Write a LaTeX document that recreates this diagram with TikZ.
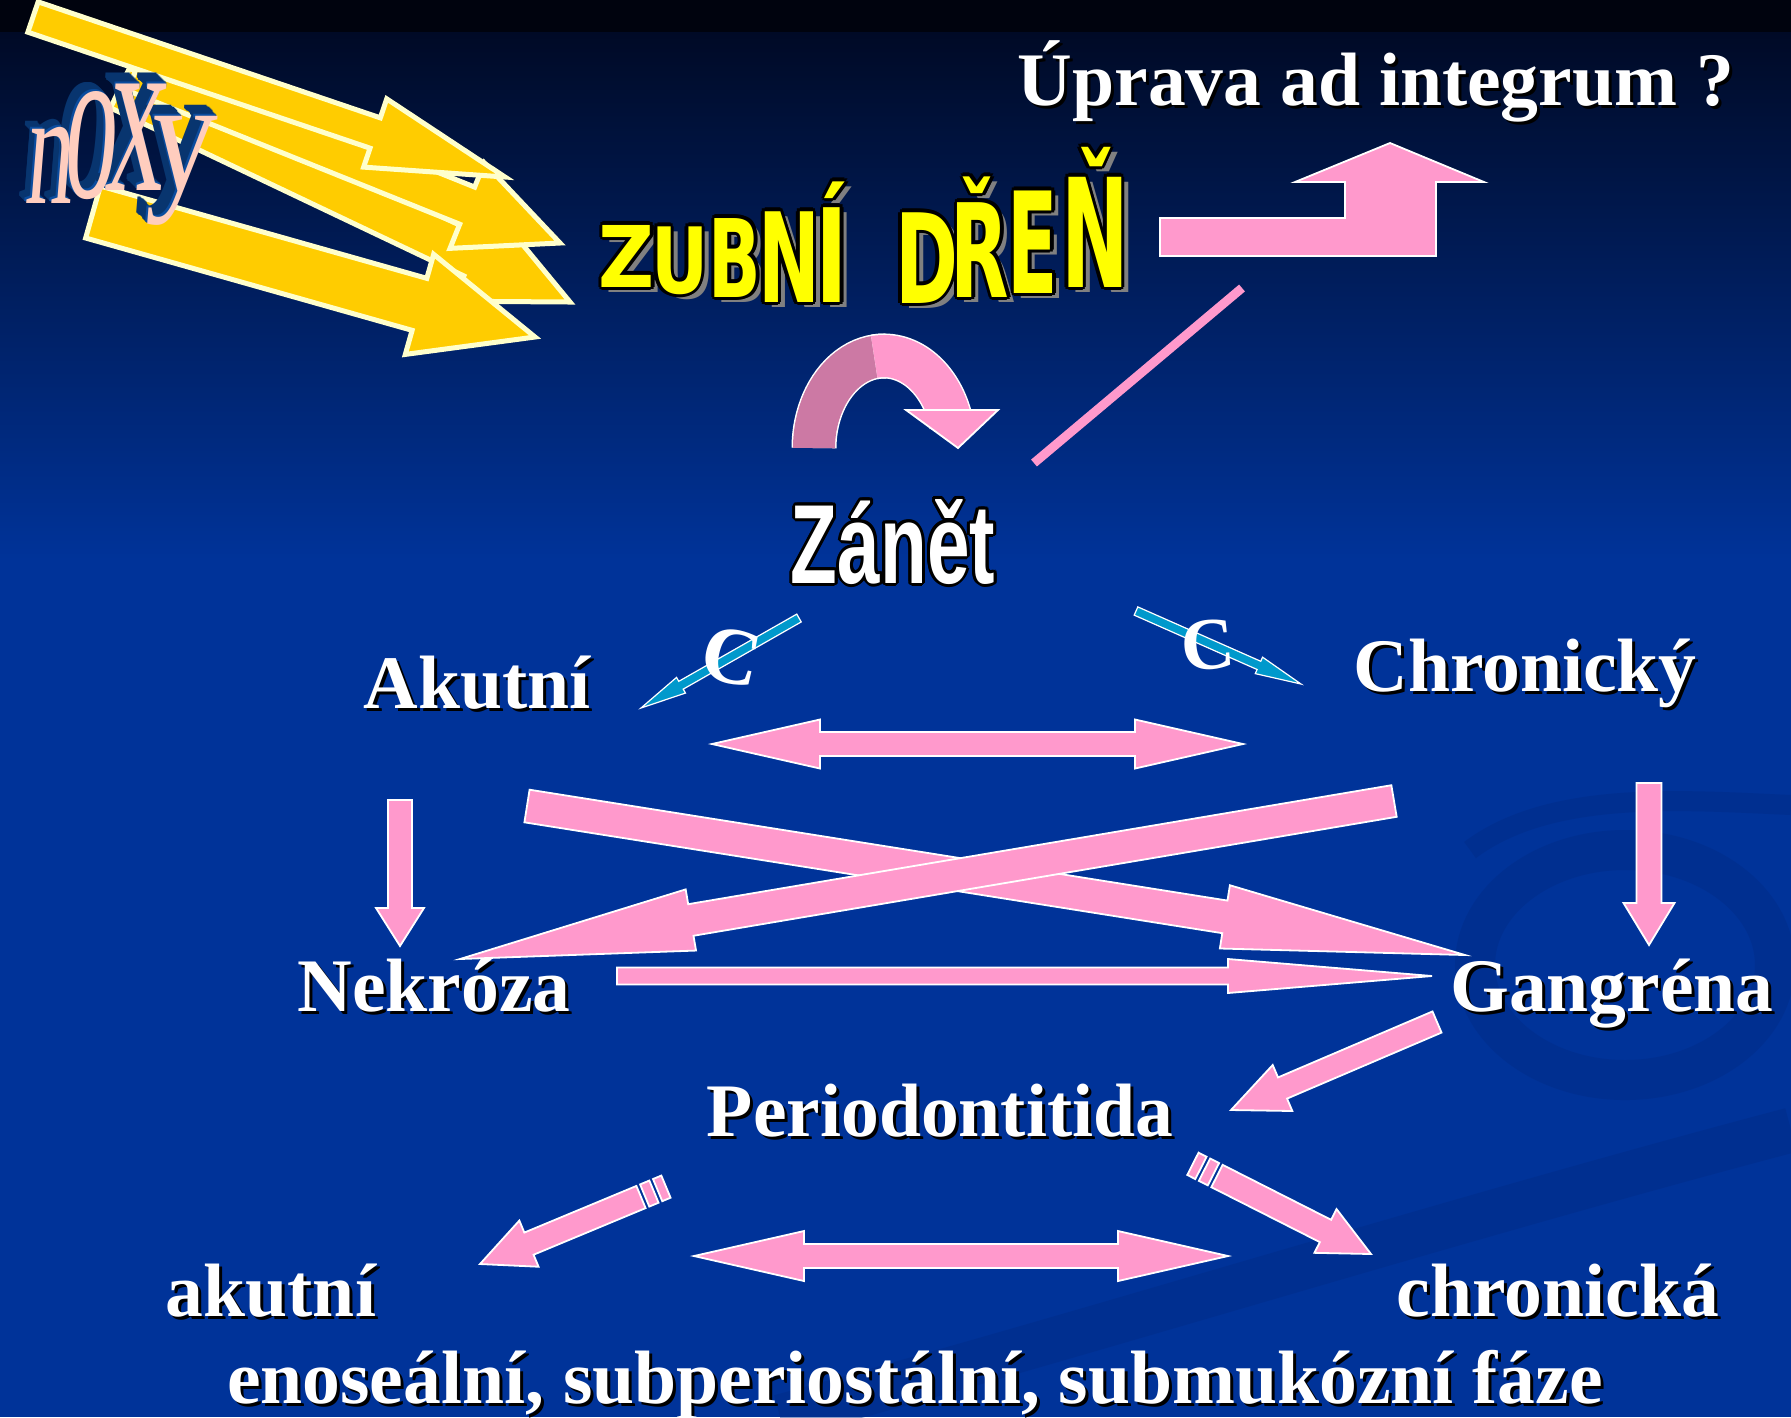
\documentclass[tikz,border=0pt]{standalone}
\usepackage{fontspec}
\setmainfont{Liberation Serif}
\newfontfamily\zubfont{DejaVu Sans}
\newfontfamily\zanfont{Liberation Sans}
\usetikzlibrary{calc}

\definecolor{bgblue}{HTML}{003399}
\definecolor{bgtop}{HTML}{000A26}
\definecolor{bgedge}{HTML}{00030E}
\definecolor{swirlc}{HTML}{002B86}
\definecolor{apink}{HTML}{FF99CC}
\definecolor{dpink}{HTML}{CC79A4}
\definecolor{ayellow}{HTML}{FFCC00}
\definecolor{pyellow}{HTML}{FFFFCC}
\definecolor{cblue}{HTML}{0099CC}
\definecolor{zyellow}{HTML}{FFFF00}
\definecolor{nface}{HTML}{FFCDBE}
\definecolor{nblue}{HTML}{0B4C9E}

\tikzset{
  lbl/.style={font=\fontsize{21.5}{26}\selectfont\bfseries, text=white, anchor=base, inner sep=0pt},
  pinkarrow/.style={fill=apink, draw=white, line width=0.018cm, line join=miter},
  yelarrow/.style={fill=ayellow, draw=pyellow, line width=0.05cm, line join=miter},
  bluearrow/.style={fill=cblue, draw=white, line width=0.012cm, line join=miter},
  zl/.style={font=\zubfont\bfseries\fontsize{20}{24}\selectfont, anchor=base, inner sep=0pt},
  nl/.style={font=\fontsize{20}{24}\selectfont, anchor=base, inner sep=0pt, xslant=0.08},
  swirl/.style={draw=swirlc, opacity=0.45},
}

% block arrow: [style]{tail}{tip}{shaft half width}{head half width}{head length}
\newcommand{\blockarrow}[6][pinkarrow]{%
  \coordinate (hb) at ($(#3)!#6!(#2)$);
  \draw[#1] ($(#2)!#4!90:(#3)$) -- ($(hb)!#4!90:(#3)$) -- ($(hb)!#5!90:(#3)$) -- (#3)
    -- ($(hb)!#5!-90:(#3)$) -- ($(hb)!#4!-90:(#3)$) -- ($(#2)!#4!-90:(#3)$) -- cycle;
}
% double arrow: {left tip}{right tip}{shaft half width}{head half width}{head length}
\newcommand{\dblarrow}[5]{%
  \coordinate (hl) at ($(#1)!#5!(#2)$);
  \coordinate (hr) at ($(#2)!#5!(#1)$);
  \draw[pinkarrow] (#1) -- ($(hl)!#4!90:(#2)$) -- ($(hl)!#3!90:(#2)$) -- ($(hr)!#3!-90:(#1)$)
    -- ($(hr)!#4!-90:(#1)$) -- (#2) -- ($(hr)!#4!90:(#1)$) -- ($(hr)!#3!90:(#1)$)
    -- ($(hl)!#3!-90:(#2)$) -- ($(hl)!#4!-90:(#2)$) -- cycle;
}
% stripe behind a tail: {tail}{tip}{half width}{from}{to}
\newcommand{\stripe}[5]{%
  \coordinate (sa) at ($(#1)!-#4!(#2)$);
  \coordinate (sb) at ($(#1)!-#5!(#2)$);
  \draw[pinkarrow] ($(sa)!#3!90:(#2)$) -- ($(sb)!#3!90:(#2)$) -- ($(sb)!#3!-90:(#2)$) -- ($(sa)!#3!-90:(#2)$) -- cycle;
}
% shadowed label
\newcommand{\slabel}[3]{%
  \node[lbl, text=black] at ($(#2)+(3,3)$) {#3};
  \node[lbl] (#1) at (#2) {#3};
}
% word-art letter of the title: {name}{x}{y}{xscale}{yscale}{letter}
\newcommand{\zletter}[6]{%
  \node[zl, xscale=#4, yscale=#5, text=black!50] at (#2+7,#3+5) {#6};
  \foreach \a in {0,45,...,315}
    \node[zl, xscale=#4, yscale=#5, text=black] at ($(#2,#3)+(\a:3.5)$) {#6};
  \node[zl, xscale=#4, yscale=#5, text=zyellow] (#1) at (#2,#3) {#6};
}
% extrusion of a letter: {x}{y}{xscale}{yscale}{depth}{letter}
\newcommand{\nback}[6]{%
  \foreach \k in {#5,...,1}
    \node[nl, xscale=#3, yscale=#4, text=nblue!70!black] at (#1-0.9*\k,#2-0.9*\k) {#6};
  \node[nl, xscale=#3, yscale=#4, text=nblue] at (#1-1.8,#2-1.8) {#6};
}
\newcommand{\nface}[5]{%
  \node[nl, xscale=#3, yscale=#4, text=nface] (#5) at (#1,#2) {#5};
}

\begin{document}
\begin{tikzpicture}[x=0.01cm, y=-0.01cm]
\useasboundingbox (0,0) rectangle (1791,1417);
\clip (0,0) rectangle (1791,1417);

% background
\fill[bgblue] (0,0) rectangle (1791,1417);
\shade[top color=bgtop, bottom color=bgblue] (0,32) rectangle (1791,560);
\fill[bgedge] (0,0) rectangle (1791,32);
\draw[swirl, line width=0.4cm] (1625,965) ellipse [x radius=150, y radius=115];
\draw[swirl, line width=0.45cm] (780,1417) .. controls (1100,1330) and (1450,1220) .. (1791,1130);
\draw[swirl, line width=0.2cm] (1470,850) .. controls (1550,790) and (1680,800) .. (1791,805);

% noxy arrows
\coordinate (y3t) at (120,88);  \coordinate (y3h) at (570,302);
\coordinate (y2t) at (135,72);  \coordinate (y2h) at (560,243);
\coordinate (y1t) at (33,17);   \coordinate (y1h) at (505,177);
\coordinate (y4t) at (93,212);  \coordinate (y4h) at (535,337);
\blockarrow[yelarrow]{y3t}{y3h}{0.22cm}{0.50cm}{1.07cm}
\blockarrow[yelarrow]{y2t}{y2h}{0.20cm}{0.46cm}{1.00cm}
\blockarrow[yelarrow]{y1t}{y1h}{0.16cm}{0.36cm}{1.37cm}
\blockarrow[yelarrow]{y4t}{y4h}{0.27cm}{0.52cm}{1.20cm}

\nback{48}{203}{1.35}{2.3}{8}{n}
\nback{88}{197}{1.5}{3.2}{10}{o}
\nback{134}{190}{1.65}{3.3}{12}{x}
\nback{180}{190}{1.85}{2.3}{12}{y}
\nface{48}{203}{1.35}{2.3}{n}
\nface{88}{197}{1.5}{3.2}{o}
\nface{134}{190}{1.65}{3.3}{x}
\nface{180}{190}{1.85}{2.3}{y}

% title
\zletter{z1}{627}{287}{1.1}{1.21}{Z}
\zletter{z2}{680}{293}{1.0}{1.30}{U}
\zletter{z3}{735}{297}{0.98}{1.54}{B}
\zletter{z4}{789}{302}{1.05}{1.77}{N}
\zletter{z5}{832}{302}{1.25}{1.85}{Í}
\zletter{z6}{927}{303}{1.08}{1.77}{D}
\zletter{z7}{980}{297}{1.08}{1.85}{Ř}
\zletter{z8}{1033}{293}{1.05}{2.0}{E}
\zletter{z9}{1095}{287}{1.15}{2.15}{Ň}

\slabel{uprava}{1376,105}{Úprava ad integrum ?}

% bent arrow up
\draw[pinkarrow] (1160,218) -- (1345,218) -- (1345,182) -- (1295,182) -- (1390,143)
  -- (1484,182) -- (1436,182) -- (1436,256) -- (1160,256) -- cycle;
\coordinate (ln1) at (1034,463);
\coordinate (ln2) at (1242,288);
\draw[apink, line width=0.09cm] (ln1) -- (ln2);

% curved arrow
\draw[white, line width=0.45cm] (814,448) arc[start angle=180, end angle=272, x radius=70, y radius=92];
\draw[dpink, line width=0.42cm] (814,448) arc[start angle=180, end angle=272, x radius=70, y radius=92];
\draw[white, line width=0.45cm] ($(884,448)+(262:70 and 92)$) arc[start angle=262, end angle=345, x radius=70, y radius=92];
\draw[apink, line width=0.42cm] ($(884,448)+(262:70 and 92)$) arc[start angle=262, end angle=345, x radius=70, y radius=92];
\draw[pinkarrow] (906,410) -- (998,410) -- (958,448) -- cycle;

% Zanet
\foreach \a in {0,30,...,330}
  \node[font=\zanfont\bfseries\fontsize{32}{36}\selectfont, xscale=0.68, anchor=base, inner sep=0pt, text=black]
    at ($(893,583)+(\a:3)$) {Zánět};
\node[font=\zanfont\bfseries\fontsize{32}{36}\selectfont, xscale=0.68, anchor=base, inner sep=0pt, text=white]
  (zanet) at (893,583) {Zánět};

% small blue arrows
\coordinate (c1t) at (799,618);  \coordinate (c1h) at (641,708);
\coordinate (c2t) at (1136,611); \coordinate (c2h) at (1301,684);
\blockarrow[bluearrow]{c1t}{c1h}{0.045cm}{0.09cm}{0.46cm}
\blockarrow[bluearrow]{c2t}{c2h}{0.045cm}{0.09cm}{0.46cm}
\node[font=\fontsize{23}{26}\selectfont\bfseries, text=white, rotate=-12, inner sep=0pt] (cl) at (732,657) {C};
\node[font=\fontsize{21}{24}\selectfont\bfseries, text=white, rotate=5, inner sep=0pt] (cr) at (1208,645) {C};

% labels
\slabel{akut}{477,708}{Akutní}
\slabel{chron}{1525,691}{Chronický}
\slabel{nekr}{434,1011}{Nekróza}
\slabel{gang}{1612,1011}{Gangréna}
\slabel{perio}{940,1136}{Periodontitida}
\slabel{akuta}{271,1316}{akutní}
\slabel{chrona}{1558,1316}{chronická}
\slabel{faze}{915,1403}{enoseální, subperiostální, submukózní fáze}

% pink arrows
\coordinate (p1l) at (712,744);   \coordinate (p1r) at (1243,744);
\coordinate (p2l) at (694,1256);  \coordinate (p2r) at (1228,1256);
\coordinate (p3t) at (400,800);   \coordinate (p3h) at (400,946);
\coordinate (p4t) at (1649,783);  \coordinate (p4h) at (1649,945);
\coordinate (p5t) at (527,806);   \coordinate (p5h) at (1465,955);
\coordinate (p6t) at (1394,801);  \coordinate (p6h) at (460,959);
\coordinate (p7t) at (617,976);   \coordinate (p7h) at (1432,976);
\coordinate (p8t) at (1437,1022); \coordinate (p8h) at (1231,1110);
\coordinate (p9t) at (641,1197);  \coordinate (p9h) at (480,1264);
\coordinate (p0t) at (1217,1176); \coordinate (p0h) at (1371,1254);
\dblarrow{p1l}{p1r}{0.12cm}{0.245cm}{1.08cm}
\dblarrow{p2l}{p2r}{0.12cm}{0.25cm}{1.10cm}
\blockarrow{p3t}{p3h}{0.12cm}{0.24cm}{0.38cm}
\blockarrow{p4t}{p4h}{0.125cm}{0.255cm}{0.42cm}
\blockarrow{p5t}{p5h}{0.165cm}{0.32cm}{2.43cm}
\blockarrow{p6t}{p6h}{0.16cm}{0.31cm}{2.34cm}
\blockarrow{p7t}{p7h}{0.085cm}{0.17cm}{2.04cm}
\blockarrow{p8t}{p8h}{0.115cm}{0.25cm}{0.56cm}
\blockarrow{p9t}{p9h}{0.12cm}{0.25cm}{0.53cm}
\stripe{p9t}{p9h}{0.12cm}{0.04cm}{0.14cm}
\stripe{p9t}{p9h}{0.12cm}{0.18cm}{0.27cm}
\blockarrow{p0t}{p0h}{0.125cm}{0.245cm}{0.51cm}
\stripe{p0t}{p0h}{0.125cm}{0.04cm}{0.14cm}
\stripe{p0t}{p0h}{0.125cm}{0.18cm}{0.27cm}
\end{tikzpicture}
\end{document}
